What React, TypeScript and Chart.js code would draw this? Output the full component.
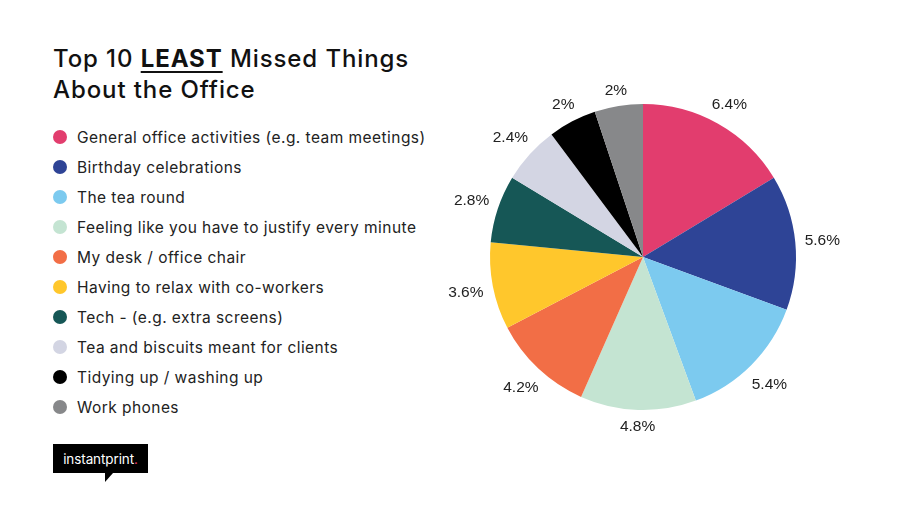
import React, { useEffect, useRef } from "react";
import { Chart, registerables } from "chart.js";

Chart.register(...registerables);

const categories = [
  "General office activities (e.g. team meetings)",
  "Birthday celebrations",
  "The tea round",
  "Feeling like you have to justify every minute",
  "My desk / office chair",
  "Having to relax with co-workers",
  "Tech - (e.g. extra screens)",
  "Tea and biscuits meant for clients",
  "Tidying up / washing up",
  "Work phones",
];
const values = [6.4, 5.6, 5.4, 4.8, 4.2, 3.6, 2.8, 2.4, 2, 2];
const colors = [
  "#E23D6E",
  "#2E4496",
  "#7CCAEF",
  "#C4E4D2",
  "#F26E46",
  "#FFC72C",
  "#165756",
  "#D3D5E3",
  "#000000",
  "#87888A",
];

const labelPlugin = {
  id: "outerLabels",
  afterDatasetsDraw(chart: any) {
    const ctx = chart.ctx;
    const meta = chart.getDatasetMeta(0);
    ctx.save();
    ctx.font = "15.5px 'Liberation Sans', Arial, sans-serif";
    ctx.fillStyle = "#222";
    ctx.textAlign = "center";
    ctx.textBaseline = "middle";
    meta.data.forEach((arc: any, i: number) => {
      const p = arc.getProps(["x", "y", "startAngle", "endAngle", "outerRadius"], true);
      const mid = (p.startAngle + p.endAngle) / 2;
      const text = values[i] + "%";
      const w = ctx.measureText(text).width;
      const c = Math.cos(mid);
      const s = Math.sin(mid);
      const extent = Math.abs(c) * (w / 2) + Math.abs(s) * 6;
      const r = p.outerRadius + 9 + extent;
      ctx.fillText(text, p.x + c * r, p.y + s * r + 1);
    });
    ctx.restore();
  },
};

export default function App() {
  const ref = useRef<HTMLCanvasElement | null>(null);
  useEffect(() => {
    if (!ref.current) return;
    const chart = new Chart(ref.current, {
      type: "pie",
      data: {
        labels: categories,
        datasets: [
          {
            data: values,
            backgroundColor: colors,
            borderWidth: 0,
          },
        ],
      },
      options: {
        animation: false,
        responsive: false,
        maintainAspectRatio: false,
        layout: { padding: 47 },
        plugins: {
          legend: { display: false },
          tooltip: { enabled: false },
        },
      },
      plugins: [labelPlugin],
    });
    return () => chart.destroy();
  }, []);

  const font = "Inter, 'Noto Sans', sans-serif";

  return (
    <div
      style={{
        position: "fixed",
        left: 0,
        top: 0,
        width: 900,
        height: 528,
        background: "#fff",
        fontFamily: font,
        color: "#111",
        overflow: "hidden",
      }}
    >
      <div
        style={{
          position: "absolute",
          left: 53,
          top: 43,
          fontSize: 24,
          lineHeight: "31px",
          fontWeight: 500,
          color: "#111",
          letterSpacing: "0.9px",
          whiteSpace: "nowrap",
        }}
      >
        Top 10{" "}
        <span
          style={{
            fontWeight: 700,
            textDecoration: "underline",
            textUnderlineOffset: 4,
            textDecorationThickness: 2,
          }}
        >
          LEAST
        </span>{" "}
        Missed Things
        <br />
        About the Office
      </div>

      {categories.map((c, i) => (
        <div
          key={c}
          style={{
            position: "absolute",
            left: 53,
            top: 127 + i * 30,
            height: 20,
            display: "flex",
            alignItems: "center",
            fontSize: 15.5,
            color: "#222",
            letterSpacing: "0.45px",
            whiteSpace: "nowrap",
          }}
        >
          <span
            style={{
              display: "inline-block",
              width: 14,
              height: 14,
              borderRadius: "50%",
              background: colors[i],
              marginRight: 10,
            }}
          />
          {c}
        </div>
      ))}

      <div
        style={{
          position: "absolute",
          left: 53,
          top: 444,
          width: 95,
          height: 29,
          background: "#000",
          color: "#fff",
          fontSize: 13.5,
          display: "flex",
          alignItems: "center",
          justifyContent: "center",
          letterSpacing: "-0.1px",
        }}
      >
        instantprint<span style={{ color: "#E23D6E" }}>.</span>
        <div
          style={{
            position: "absolute",
            left: 52,
            top: 29,
            width: 0,
            height: 0,
            borderLeft: "0px solid transparent",
            borderRight: "8px solid transparent",
            borderTop: "9px solid #000",
          }}
        />
      </div>

      <canvas
        ref={ref}
        width={400}
        height={400}
        style={{ position: "absolute", left: 443, top: 57, width: 400, height: 400 }}
      />
    </div>
  );
}
